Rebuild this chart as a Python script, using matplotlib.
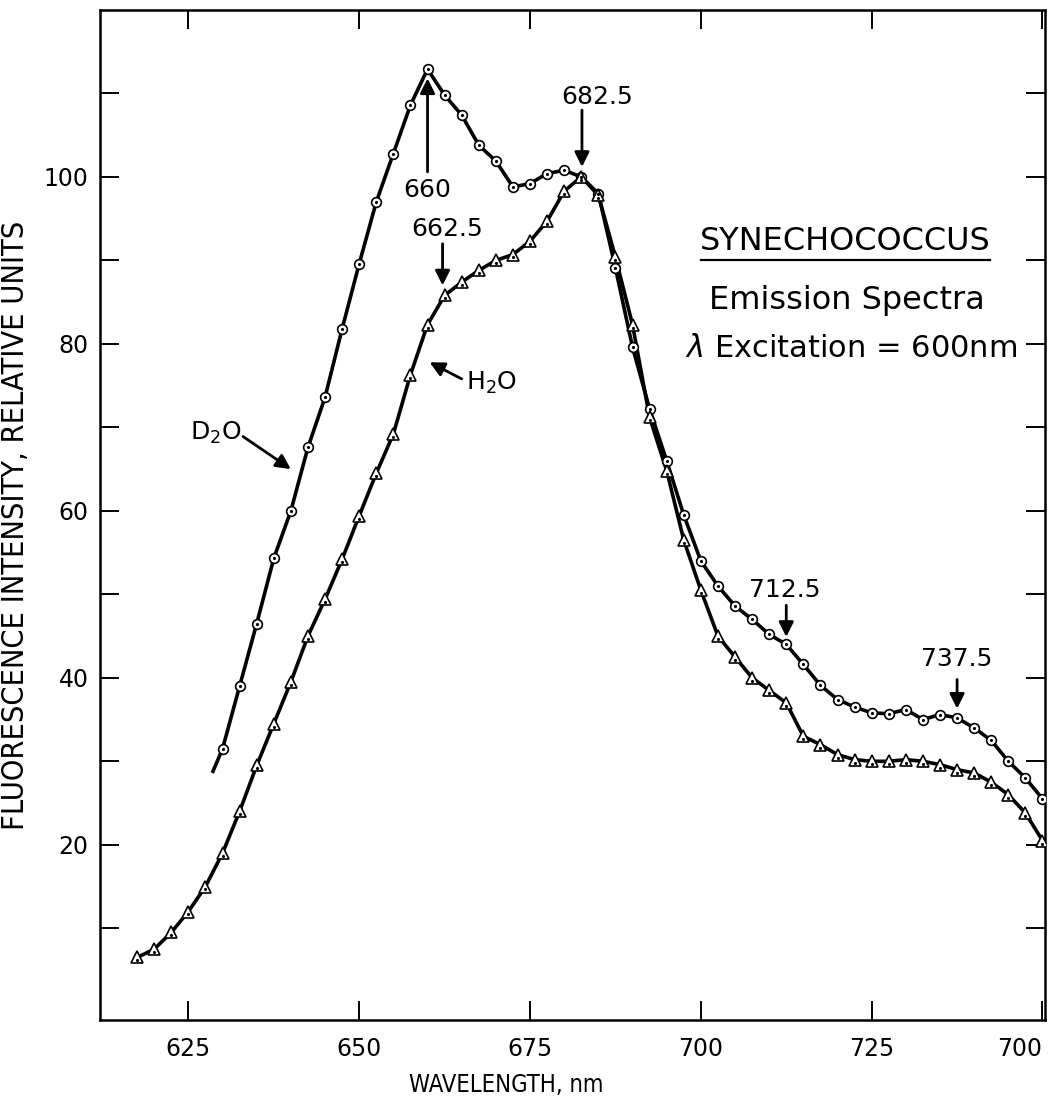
import matplotlib
matplotlib.use("Agg")
import matplotlib.pyplot as plt

# Datos (longitud de onda en nm, intensidad relativa)
d2o_nm = [630, 632.5, 635, 637.5, 640, 642.5, 645, 647.5, 650, 652.5, 655, 657.5,
          660, 662.5, 665, 667.5, 670, 672.5, 675, 677.5, 680, 682.5, 685, 687.5,
          690, 692.5, 695, 697.5, 700, 702.5, 705, 707.5, 710, 712.5, 715, 717.5,
          720, 722.5, 725, 727.5, 730, 732.5, 735, 737.5, 740, 742.5, 745, 747.5, 750]
d2o_val = [31.5, 39.0, 46.5, 54.3, 60.0, 67.6, 73.6, 81.8, 89.6, 97.0, 102.8, 108.6,
           112.9, 109.8, 107.4, 103.8, 101.9, 98.8, 99.2, 100.4, 100.8, 100.0, 98.0, 89.1,
           79.6, 72.2, 66.0, 59.5, 54.0, 51.0, 48.6, 47.0, 45.2, 44.0, 41.6, 39.1,
           37.4, 36.5, 35.8, 35.7, 36.2, 35.0, 35.6, 35.2, 34.0, 32.5, 30.0, 28.0, 25.5]
# inicio del trazo (sin punto) a la izquierda de la primera medida
d2o_start = (628.6, 28.8)

h2o_nm = [617.5, 620, 622.5, 625, 627.5, 630, 632.5, 635, 637.5, 640, 642.5, 645,
          647.5, 650, 652.5, 655, 657.5, 660, 662.5, 665, 667.5, 670, 672.5, 675,
          677.5, 680, 682.5, 685, 687.5, 690, 692.5, 695, 697.5, 700, 702.5, 705,
          707.5, 710, 712.5, 715, 717.5, 720, 722.5, 725, 727.5, 730, 732.5, 735,
          737.5, 740, 742.5, 745, 747.5, 750]
h2o_val = [6.5, 7.5, 9.5, 12.0, 15.0, 19.0, 24.0, 29.5, 34.5, 39.5, 45.0, 49.4,
           54.2, 59.4, 64.5, 69.2, 76.3, 82.3, 85.8, 87.4, 88.8, 90.0, 90.7, 92.3,
           94.7, 98.3, 100.0, 97.8, 90.4, 82.3, 71.2, 64.8, 56.5, 50.5, 45.0, 42.5,
           40.0, 38.5, 37.0, 33.0, 32.0, 30.8, 30.2, 30.0, 30.0, 30.2, 30.0, 29.6,
           29.0, 28.6, 27.5, 26.0, 23.8, 20.5]

x_ticks = [625, 650, 675, 700, 725, 750]
x_tick_labels = ['625', '650', '675', '700', '725', '700']
y_ticks = [20, 40, 60, 80, 100]
y_minor = [10, 30, 50, 70, 90, 110]

plt.rcParams['font.family'] = ['DejaVu Sans']

fig = plt.figure(figsize=(10.59, 11.04), dpi=100)
ax = fig.add_axes([0.094, 0.076, 0.893, 0.915])

# curvas
ax.plot([d2o_start[0]] + d2o_nm, [d2o_start[1]] + d2o_val, color='black', lw=2.6, zorder=2)
ax.plot(h2o_nm, h2o_val, color='black', lw=2.6, zorder=2)

# marcadores (circulo con punto, triangulo con punto)
ax.plot(d2o_nm, d2o_val, 'o', ms=7, mfc='white', mec='black', mew=1.2, zorder=3)
ax.plot(d2o_nm, d2o_val, '.', ms=2.5, color='black', zorder=4)
ax.plot(h2o_nm, h2o_val, '^', ms=8.5, mfc='white', mec='black', mew=1.2, zorder=3)
ax.plot(h2o_nm, [v - 0.35 for v in h2o_val], '.', ms=2.5, color='black', zorder=4)

ax.set_xlim(612, 750.4)
ax.set_ylim(-1, 120)

ax.set_xticks(x_ticks)
ax.set_xticklabels(x_tick_labels, fontsize=17)
ax.get_xticklabels()[-1].set_horizontalalignment('right')
ax.set_yticks(y_ticks)
ax.set_yticklabels([str(v) for v in y_ticks], fontsize=17)
ax.set_yticks(y_minor, minor=True)

ax.tick_params(axis='both', which='both', direction='in', length=14, width=1.4,
               top=True, right=True)
ax.tick_params(axis='x', pad=12)
ax.tick_params(axis='y', pad=8)
for s in ax.spines.values():
    s.set_linewidth(1.8)

ax.set_xlabel('WAVELENGTH, nm', fontsize=17, fontstretch='condensed')
ax.xaxis.set_label_coords(0.43, -0.052)
ax.set_ylabel('FLUORESCENCE INTENSITY, RELATIVE UNITS', fontsize=22, fontstretch='condensed')
ax.yaxis.set_label_coords(-0.074, 0.49)

arrow = dict(arrowstyle='-|>', color='black', lw=2.0, mutation_scale=22, shrinkA=0, shrinkB=0)

# anotaciones de picos
ax.annotate('', xy=(660, 111.8), xytext=(660, 100.6), arrowprops=arrow)
ax.text(660, 98.4, '660', fontsize=18, ha='center', va='center')
ax.annotate('', xy=(682.6, 101.2), xytext=(682.6, 108.0), arrowprops=arrow)
ax.text(684.8, 109.6, '682.5', fontsize=18, ha='center', va='center')
ax.annotate('', xy=(662.2, 87.0), xytext=(662.2, 92.0), arrowprops=arrow)
ax.text(662.8, 93.8, '662.5', fontsize=18, ha='center', va='center')
ax.annotate('', xy=(712.5, 44.9), xytext=(712.5, 48.7), arrowprops=arrow)
ax.text(712.3, 50.5, '712.5', fontsize=18, ha='center', va='center')
ax.annotate('', xy=(737.5, 36.3), xytext=(737.5, 39.8), arrowprops=arrow)
ax.text(737.5, 42.2, '737.5', fontsize=18, ha='center', va='center')

ax.annotate('', xy=(640.0, 65.0), xytext=(633.0, 68.9), arrowprops=arrow)
ax.text(629.0, 69.3, 'D$_2$O', fontsize=18, ha='center', va='center')
ax.annotate('', xy=(660.3, 77.8), xytext=(665.0, 75.8), arrowprops=arrow)
ax.text(665.6, 75.3, 'H$_2$O', fontsize=18, ha='left', va='center')

# bloque de texto
ax.text(721.1, 92.3, 'SYNECHOCOCCUS', fontsize=23, ha='center', va='center')
ax.plot([700.0, 742.3], [90.0, 90.0], color='black', lw=1.6)
ax.text(721.3, 85.2, 'Emission Spectra', fontsize=23, ha='center', va='center')
ax.text(722.0, 79.5, '$\\lambda$ Excitation = 600nm', fontsize=22, ha='center', va='center')

fig.savefig('out.png', dpi=100, facecolor='white')
